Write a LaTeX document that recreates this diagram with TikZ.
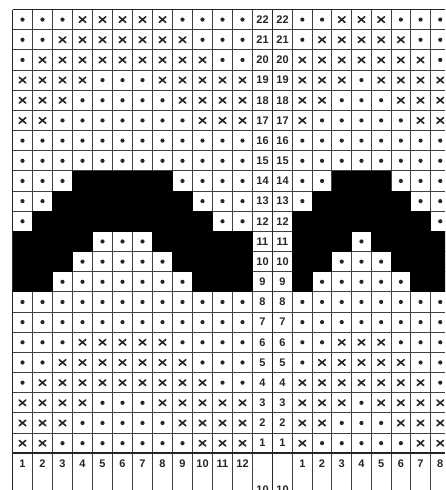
\documentclass[tikz,border=0pt]{standalone}
\usepackage{fontspec}
\setmainfont{Liberation Sans}
\tikzset{
  gridline/.style={draw=black!75, line width=0.9pt},
  heavyline/.style={draw=black!85, line width=1.7pt},
  crossline/.style={draw=black!85, line width=1.6pt, line cap=round},
  symb/.style={fill=black!85},
  num/.style={font=\fontsize{11}{12}\selectfont\bfseries, text=black!85, inner sep=0pt},
}
\newcommand\cello[3]{\fill[symb] (#1,#2) circle[radius=2.1pt];}
\newcommand\cellx[3]{\draw[crossline] (#1-3.3,#2-2.8) -- (#1+3.3,#2+2.8) (#1-3.3,#2+2.8) -- (#1+3.3,#2-2.8);}
\newcommand\cellB[3]{\fill[black] (#1-#3-0.3,#2-10.4) rectangle (#1+#3+0.3,#2+10.4);}
\begin{document}
\begin{tikzpicture}[x=1pt,y=-1pt]
\useasboundingbox (0,0) rectangle (445,490);
\fill[white] (0,0) rectangle (445,490);
\clip (0,0) rectangle (445,490);
% grid
\foreach \k in {0,...,12} { \draw[gridline] (12.5+20*\k,9.5) -- (12.5+20*\k,490); }
\draw[gridline] (272.5,9.5) -- (272.5,490);
\foreach \k in {0,...,7} { \draw[gridline] (292.5+19.7*\k,9.5) -- (292.5+19.7*\k,490); }
\foreach \k in {0,...,22} { \draw[gridline] (12.5,9.5+20.17*\k) -- (445,9.5+20.17*\k); }
% cells
\foreach \r/\L/\R in {
22/{o,o,o,x,x,x,x,x,o,o,o,o}/{o,o,x,x,x,o,o,o},
21/{o,o,x,x,x,x,x,x,x,o,o,o}/{o,x,x,x,x,x,o,o},
20/{o,x,x,x,x,x,x,x,x,x,o,o}/{x,x,x,x,x,x,x,o},
19/{x,x,x,x,o,o,o,x,x,x,x,x}/{x,x,x,o,x,x,x,x},
18/{x,x,x,o,o,o,o,o,x,x,x,x}/{x,x,o,o,o,x,x,x},
17/{x,x,o,o,o,o,o,o,o,x,x,x}/{x,o,o,o,o,o,x,x},
16/{o,o,o,o,o,o,o,o,o,o,o,o}/{o,o,o,o,o,o,o,o},
15/{o,o,o,o,o,o,o,o,o,o,o,o}/{o,o,o,o,o,o,o,o},
14/{o,o,o,B,B,B,B,B,o,o,o,o}/{o,o,B,B,B,o,o,o},
13/{o,o,B,B,B,B,B,B,B,o,o,o}/{o,B,B,B,B,B,o,o},
12/{o,B,B,B,B,B,B,B,B,B,o,o}/{B,B,B,B,B,B,B,o},
11/{B,B,B,B,o,o,o,B,B,B,B,B}/{B,B,B,o,B,B,B,B},
10/{B,B,B,o,o,o,o,o,B,B,B,B}/{B,B,o,o,o,B,B,B},
9/{B,B,o,o,o,o,o,o,o,B,B,B}/{B,o,o,o,o,o,B,B},
8/{o,o,o,o,o,o,o,o,o,o,o,o}/{o,o,o,o,o,o,o,o},
7/{o,o,o,o,o,o,o,o,o,o,o,o}/{o,o,o,o,o,o,o,o},
6/{o,o,o,x,x,x,x,x,o,o,o,o}/{o,o,x,x,x,o,o,o},
5/{o,o,x,x,x,x,x,x,x,o,o,o}/{o,x,x,x,x,x,o,o},
4/{o,x,x,x,x,x,x,x,x,x,o,o}/{x,x,x,x,x,x,x,o},
3/{x,x,x,x,o,o,o,x,x,x,x,x}/{x,x,x,o,x,x,x,x},
2/{x,x,x,o,o,o,o,o,x,x,x,x}/{x,x,o,o,o,x,x,x},
1/{x,x,o,o,o,o,o,o,o,x,x,x}/{x,o,o,o,o,o,x,x}} {
  \pgfmathsetmacro\yc{463.325-20.17*\r}
  \foreach \c [count=\i] in \L {
    \pgfmathsetmacro\xc{2.5+20*\i}
    \csname cell\c\endcsname{\xc}{\yc}{10}
  }
  \foreach \c [count=\i] in \R {
    \pgfmathsetmacro\xc{282.65+19.7*\i}
    \csname cell\c\endcsname{\xc}{\yc}{9.85}
  }
  \node[num] (la\r) at (262.5,\yc) {\r};
  \node[num] (rb\r) at (282.5,\yc) {\r};
}
% column numbers
\foreach \i in {1,...,12} { \node[num] (cl\i) at (2.5+20*\i,463.4) {\i}; }
\foreach \i in {1,...,8} { \node[num] (cr\i) at (282.65+19.7*\i,463.4) {\i}; }
\node[num, anchor=north] (bl) at (262.5,485.5) {10};
\node[num, anchor=north] (br) at (282.5,485.5) {10};
% heavy lines
\draw[heavyline] (12.5,9.5) -- (12.5,490);
\draw[heavyline] (12.5,9.5) -- (445,9.5);
\draw[heavyline] (12.5,453.24) -- (445,453.24);
\draw[heavyline] (272.5,9.5) -- (272.5,490);
\end{tikzpicture}
\end{document}
